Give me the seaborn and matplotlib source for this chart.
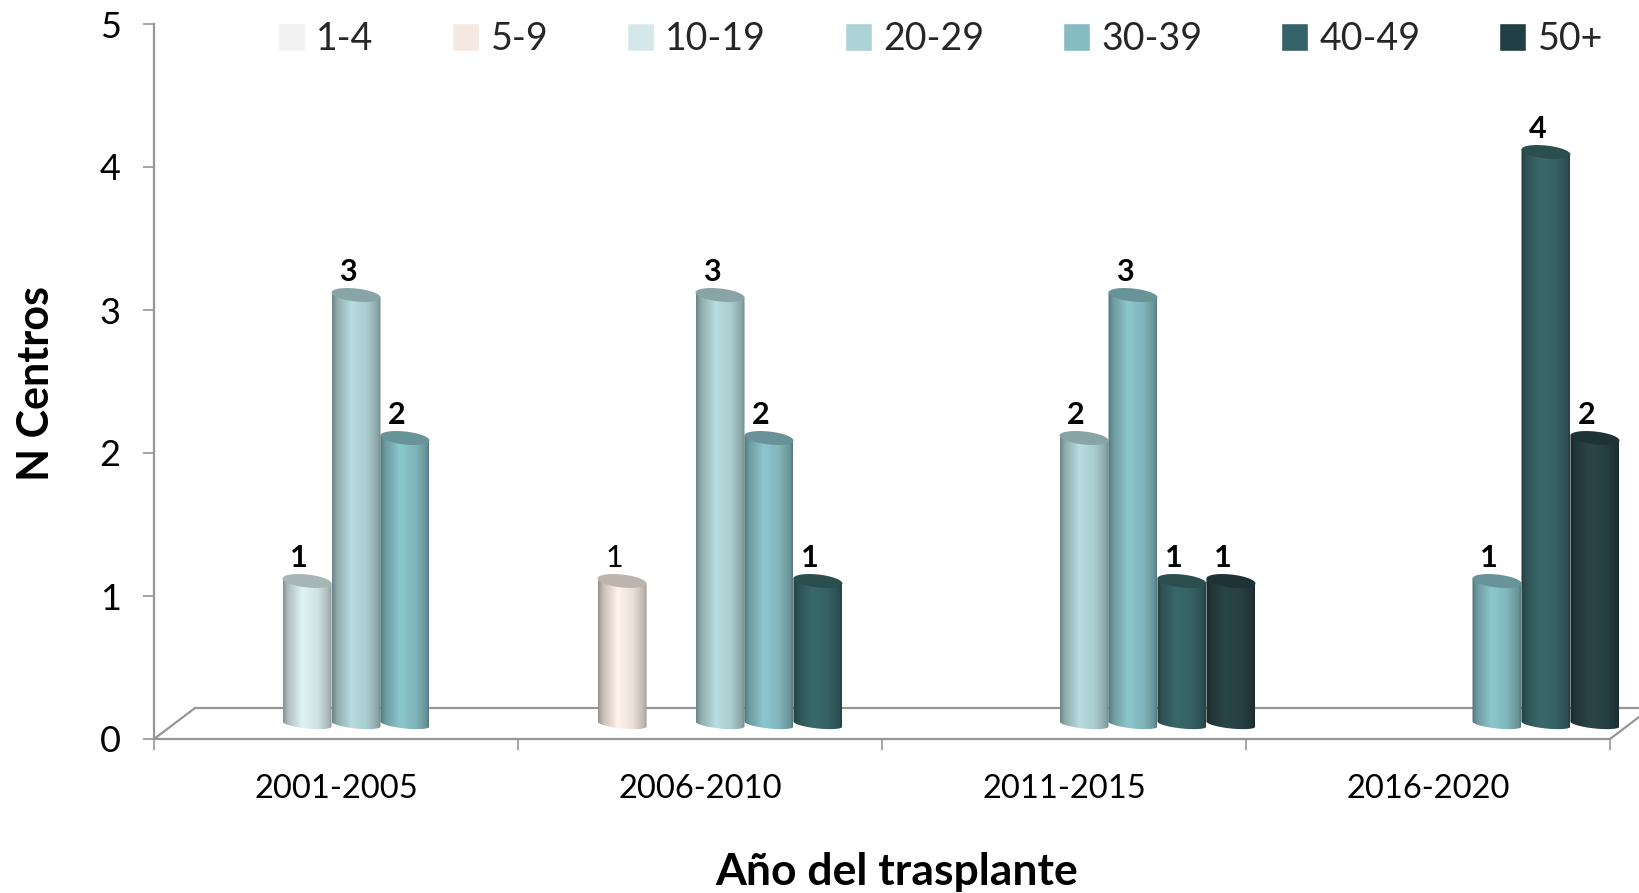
#!/usr/bin/env python3
# barras tipo cilindro 3D, N centros por periodo y grupo de volumen
import numpy as np
import pandas as pd
import matplotlib
matplotlib.use("Agg")
import matplotlib.pyplot as plt
import seaborn as sns
from matplotlib.lines import Line2D
from matplotlib.patches import PathPatch, Polygon
from matplotlib.path import Path

periodos = ["2001-2005", "2006-2010", "2011-2015", "2016-2020"]
grupos = ["1-4", "5-9", "10-19", "20-29", "30-39", "40-49", "50+"]
v_1_4 = [0, 0, 0, 0]
v_5_9 = [0, 1, 0, 0]
v_10_19 = [1, 0, 0, 0]
v_20_29 = [3, 3, 2, 0]
v_30_39 = [2, 2, 3, 1]
v_40_49 = [0, 1, 1, 4]
v_50 = [0, 0, 1, 2]
y_ticks = [0, 1, 2, 3, 4, 5]

col_leyenda = ["#f2f2f2", "#f6e9e2", "#d5e8e9", "#aed3d6", "#85bcc2", "#356268", "#223f45"]
col_barra = ["#f2f2f2", "#fff3ea", "#e0f4f6", "#b8dde0", "#8cc6cd", "#3a696b", "#2a4549"]

W, H = 1639, 893
GRIS = "#969696"

sns.set_theme(style="white")
plt.rcParams["font.family"] = ["Lato", "DejaVu Sans"]

df = pd.DataFrame({
    "periodo": periodos * len(grupos),
    "grupo": np.repeat(grupos, len(periodos)),
    "n": v_1_4 + v_5_9 + v_10_19 + v_20_29 + v_30_39 + v_40_49 + v_50,
})

fig = plt.figure(figsize=(W / 100, H / 100), dpi=100, facecolor="white")


def caja(x0, x1, y_top, y_bot):
    return [x0 / W, 1 - y_bot / H, (x1 - x0) / W, (y_bot - y_top) / H]


# ejes del marco y ejes de las barras, corridos para simular la profundidad
# (ax3 baja 0.1 unidades de mas para que no se corte la elipse de abajo)
ax = fig.add_axes(caja(154, 1610, 24, 739))
ax3 = fig.add_axes(caja(174, 1630, 9, 724 + 14.3))
ax.patch.set_alpha(0)
ax3.patch.set_alpha(0)

sns.barplot(data=df, x="periodo", y="n", hue="grupo", hue_order=grupos, order=periodos,
            palette=col_leyenda, saturation=1, width=0.942, gap=0, ax=ax3)


def sombra(base, n=64):
    rgb = np.array(matplotlib.colors.to_rgb(base))
    t = np.linspace(0, 1, n)
    f = np.interp(t, [0, 0.1, 0.4, 0.72, 0.95, 1], [0.6, 0.78, 1.0, 0.92, 0.74, 0.62])
    return (rgb[None, :] * f[:, None])[None, :, :]


alto = 6.5 / 143
alto_low = 4.5 / 143
incl = 2.5 / 143
tt = np.linspace(0, 2 * np.pi, 80)

for i_g, cont in enumerate(ax3.containers):
    for i_p, r in enumerate(cont):
        h = r.get_height()
        r.set_visible(False)
        if not h > 0:
            continue
        x0, w = r.get_x(), r.get_width()
        cx = x0 + w / 2
        z = 3 + i_g + 10 * i_p
        # cuerpo: lateral + media elipse inferior
        low = np.linspace(np.pi, 2 * np.pi, 40)
        lx = cx + w / 2 * np.cos(low)
        ly = alto_low * np.sin(low) - incl * np.cos(low)
        px = np.r_[x0, lx, x0 + w, x0]
        py = np.r_[h + incl, ly, h - incl, h + incl]
        clip = PathPatch(Path(np.c_[px, py]), transform=ax3.transData, fc="none", ec="none")
        im = ax3.imshow(sombra(col_barra[i_g]), extent=(x0, x0 + w, -0.1, h + 0.2),
                        aspect="auto", interpolation="bilinear", zorder=z, origin="lower")
        im.set_clip_path(clip)
        # tapa
        ex = cx + w / 2 * np.cos(tt)
        ey = h + alto * np.sin(tt) - incl * np.cos(tt)
        tapa = np.array(matplotlib.colors.to_rgb(col_barra[i_g])) * 0.74
        ax3.add_patch(Polygon(np.c_[ex, ey], closed=True, fc=tapa, ec="none", zorder=z + 0.5))
        # etiqueta, el 1 de 5-9 va sin negrita
        ax3.annotate(str(int(h)), (cx, h), xytext=(-8, 23), textcoords="offset pixels",
                     ha="center", va="center", fontsize=22, color="black",
                     fontweight="normal" if grupos[i_g] == "5-9" else "bold",
                     zorder=60, annotation_clip=False)

ax3.set_xlim(-0.5, 3.5)
ax3.set_ylim(-0.1, 5)
sns.move_legend(ax3, "upper left", bbox_to_anchor=(278 / W, 1 - 21 / H),
                bbox_transform=fig.transFigure, ncol=7, frameon=False, title=None,
                fontsize=27, handlelength=0.72, handleheight=0.8, handletextpad=0.3,
                columnspacing=2.1, borderpad=0, borderaxespad=0)
ax3.axis("off")
ax3.get_legend().set_visible(True)

# marco
ax.set_xlim(0, 4)
ax.set_ylim(0, 5)
ax.set_yticks(y_ticks)
ax.set_xticks(range(5))
ax.set_xticklabels([])
ax.set_xticks(np.arange(len(periodos)) + 0.5, periodos, minor=True)
for s in ["top", "right"]:
    ax.spines[s].set_visible(False)
for s in ["left", "bottom"]:
    ax.spines[s].set_color(GRIS)
    ax.spines[s].set_linewidth(1.6)
ax.tick_params(axis="y", which="major", left=True, length=8, width=1.2, color=GRIS,
               labelsize=26, pad=16, labelcolor="black")
ax.tick_params(axis="x", which="major", bottom=True, length=8, width=1.2, color=GRIS)
ax.tick_params(axis="x", which="minor", bottom=False, labelsize=23.5, pad=21, labelcolor="black")
ax.set_xlabel("")
ax.set_ylabel("")

# suelo 3D
suelo = [
    ([154, 195], [739, 708]),
    ([195, 1639], [708, 708]),
    ([1610, 1639], [739, 717]),
]
for xs, ys in suelo:
    fig.add_artist(Line2D([x / W for x in xs], [1 - y / H for y in ys], color=GRIS, lw=1.6,
                          transform=fig.transFigure, zorder=-1))

fig.text(897 / W, 1 - 872 / H, "Año del trasplante", ha="center", va="center",
         fontsize=32, fontweight="bold", color="black")
fig.text(36 / W, 1 - 384 / H, "N Centros", ha="center", va="center", rotation=90,
         fontsize=31, fontweight="bold", color="black")

fig.savefig("out.png", dpi=100, facecolor="white")
